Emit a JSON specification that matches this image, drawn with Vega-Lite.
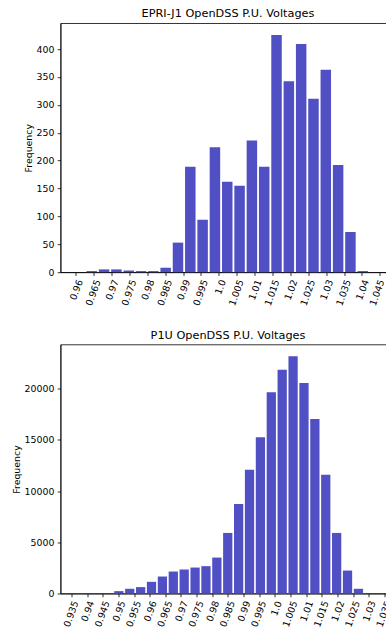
{
  "$schema": "https://vega.github.io/schema/vega-lite/v6.json",
  "padding": {"left": 10.5, "top": 7.2, "right": 0, "bottom": 0},
  "spacing": 21.3,
  "config": {
    "font": "DejaVu Sans",
    "view": {"stroke": "#000000", "strokeWidth": 0.8},
    "axis": {
      "grid": false,
      "domainColor": "#000000",
      "domainWidth": 0.8,
      "tickColor": "#000000",
      "tickWidth": 0.8,
      "tickSize": 3.3,
      "labelFont": "DejaVu Sans",
      "labelFontSize": 9.4,
      "labelColor": "#000000",
      "titleFont": "DejaVu Sans",
      "titleFontSize": 9.4,
      "titleFontWeight": "normal",
      "titleColor": "#000000"
    },
    "title": {"font": "DejaVu Sans", "fontSize": 11.3, "fontWeight": "normal", "color": "#000000", "offset": 3.5, "baseline": "alphabetic", "dx": 4}
  },
  "vconcat": [
    {
      "title": {"text": "EPRI-J1 OpenDSS P.U. Voltages"},
      "width": 327,
      "height": 249,
      "data": {"values": [
        {"bin_start": 0.96274, "bin_end": 0.9661846, "count": 2},
        {"bin_start": 0.9661846, "bin_end": 0.9696292, "count": 5},
        {"bin_start": 0.9696292, "bin_end": 0.9730738, "count": 5},
        {"bin_start": 0.9730738, "bin_end": 0.9765184, "count": 3},
        {"bin_start": 0.9765184, "bin_end": 0.979963, "count": 2},
        {"bin_start": 0.979963, "bin_end": 0.9834076, "count": 2},
        {"bin_start": 0.9834076, "bin_end": 0.9868522, "count": 8},
        {"bin_start": 0.9868522, "bin_end": 0.9902968, "count": 53},
        {"bin_start": 0.9902968, "bin_end": 0.9937414, "count": 189},
        {"bin_start": 0.9937414, "bin_end": 0.997186, "count": 94},
        {"bin_start": 0.997186, "bin_end": 1.0006306, "count": 224},
        {"bin_start": 1.0006306, "bin_end": 1.0040752, "count": 162},
        {"bin_start": 1.0040752, "bin_end": 1.0075198, "count": 155},
        {"bin_start": 1.0075198, "bin_end": 1.0109644, "count": 236},
        {"bin_start": 1.0109644, "bin_end": 1.014409, "count": 189},
        {"bin_start": 1.014409, "bin_end": 1.0178536, "count": 425},
        {"bin_start": 1.0178536, "bin_end": 1.0212982, "count": 342},
        {"bin_start": 1.0212982, "bin_end": 1.0247428, "count": 409},
        {"bin_start": 1.0247428, "bin_end": 1.0281874, "count": 311},
        {"bin_start": 1.0281874, "bin_end": 1.031632, "count": 363},
        {"bin_start": 1.031632, "bin_end": 1.0350766, "count": 192},
        {"bin_start": 1.0350766, "bin_end": 1.0385212, "count": 72},
        {"bin_start": 1.0385212, "bin_end": 1.0419658, "count": 2}
      ]},
      "mark": {"type": "bar", "color": "#504fc3", "xOffset": 0.92, "x2Offset": -0.92},
      "encoding": {
        "x": {
          "field": "bin_start", "type": "quantitative",
          "scale": {"domain": [0.955721, 1.047164], "nice": false, "zero": false},
          "axis": {
            "title": null,
            "values": [0.96, 0.965, 0.97, 0.975, 0.98, 0.985, 0.99, 0.995, 1.0, 1.005, 1.01, 1.015, 1.02, 1.025, 1.03, 1.035, 1.04, 1.045],
            "labelExpr": "datum.value == 1 ? '1.0' : format(datum.value, '.4~g')",
            "labelAngle": -70, "labelAlign": "right", "labelBaseline": "middle",
            "labelOffset": {"condition": {"test": "datum.value > 1.044", "value": 1.5}, "value": 3.8},
            "labelPadding": 4.2, "labelOverlap": false, "labelFlush": false
          }
        },
        "x2": {"field": "bin_end"},
        "y": {
          "field": "count", "type": "quantitative",
          "scale": {"domain": [0, 446.25], "nice": false},
          "axis": {"title": "Frequency", "format": "d", "values": [0, 50, 100, 150, 200, 250, 300, 350, 400], "labelPadding": 3.3, "titlePadding": 2.5}
        },
        "y2": {"datum": 0}
      }
    },
    {
      "title": {"text": "P1U OpenDSS P.U. Voltages"},
      "width": 327,
      "height": 249,
      "data": {"values": [
        {"bin_start": 0.948395, "bin_end": 0.951877, "count": 230},
        {"bin_start": 0.951877, "bin_end": 0.955358, "count": 460},
        {"bin_start": 0.955358, "bin_end": 0.95884, "count": 624},
        {"bin_start": 0.95884, "bin_end": 0.962321, "count": 1140},
        {"bin_start": 0.962321, "bin_end": 0.965803, "count": 1657},
        {"bin_start": 0.965803, "bin_end": 0.969284, "count": 2144},
        {"bin_start": 0.969284, "bin_end": 0.972766, "count": 2339},
        {"bin_start": 0.972766, "bin_end": 0.976247, "count": 2534},
        {"bin_start": 0.976247, "bin_end": 0.979729, "count": 2670},
        {"bin_start": 0.979729, "bin_end": 0.98321, "count": 3509},
        {"bin_start": 0.98321, "bin_end": 0.986692, "count": 5916},
        {"bin_start": 0.986692, "bin_end": 0.990173, "count": 8743},
        {"bin_start": 0.990173, "bin_end": 0.993655, "count": 12085},
        {"bin_start": 0.993655, "bin_end": 0.997136, "count": 15273},
        {"bin_start": 0.997136, "bin_end": 1.000618, "count": 19659},
        {"bin_start": 1.000618, "bin_end": 1.004099, "count": 21862},
        {"bin_start": 1.004099, "bin_end": 1.007581, "count": 23168},
        {"bin_start": 1.007581, "bin_end": 1.011062, "count": 20565},
        {"bin_start": 1.011062, "bin_end": 1.014544, "count": 17057},
        {"bin_start": 1.014544, "bin_end": 1.018025, "count": 11599},
        {"bin_start": 1.018025, "bin_end": 1.021507, "count": 5916},
        {"bin_start": 1.021507, "bin_end": 1.024988, "count": 2240},
        {"bin_start": 1.024988, "bin_end": 1.02847, "count": 458}
      ]},
      "mark": {"type": "bar", "color": "#504fc3", "xOffset": 0.82, "x2Offset": -0.82},
      "encoding": {
        "x": {
          "field": "bin_start", "type": "quantitative",
          "scale": {"domain": [0.931483, 1.036024], "nice": false, "zero": false},
          "axis": {
            "title": null,
            "values": [0.935, 0.94, 0.945, 0.95, 0.955, 0.96, 0.965, 0.97, 0.975, 0.98, 0.985, 0.99, 0.995, 1.0, 1.005, 1.01, 1.015, 1.02, 1.025, 1.03, 1.035],
            "labelExpr": "datum.value == 1 ? '1.0' : format(datum.value, '.4~g')",
            "labelAngle": -70, "labelAlign": "right", "labelBaseline": "middle",
            "labelOffset": 3.8, "labelPadding": 4.2, "labelOverlap": false, "labelFlush": false
          }
        },
        "x2": {"field": "bin_end"},
        "y": {
          "field": "count", "type": "quantitative",
          "scale": {"domain": [0, 24326], "nice": false},
          "axis": {"title": "Frequency", "format": "d", "values": [0, 5000, 10000, 15000, 20000], "labelPadding": 3.3, "titlePadding": 2.5}
        },
        "y2": {"datum": 0}
      }
    }
  ]
}
